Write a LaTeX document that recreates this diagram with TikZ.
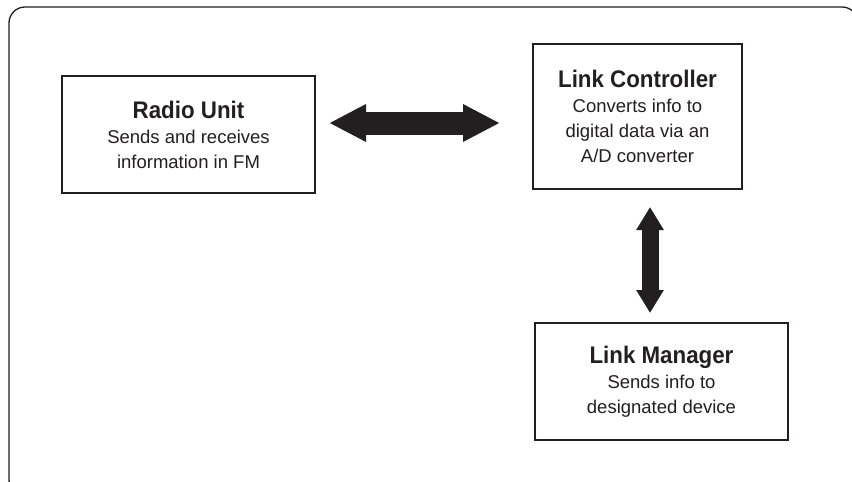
\documentclass[tikz,border=0pt]{standalone}
\usepackage{fontspec}
\setmainfont{Liberation Sans}
\newfontfamily\titlefont[FakeStretch=0.93]{Liberation Sans}
\usetikzlibrary{arrows.meta}

\definecolor{ink}{HTML}{231F20}

\begin{document}
\begin{tikzpicture}[x=1pt, y=-1pt,
    unit/.style={draw=ink, line width=1.4pt, inner sep=0pt, outer sep=0pt, align=center,
        text=ink, font=\fontsize{18.5}{25}\selectfont},
    fatarrow/.style={draw=ink, line width=23pt,
        {Triangle[length=37pt,width=35pt]}-{Triangle[length=37pt,width=35pt]}},
    slimarrow/.style={draw=ink, line width=17pt,
        {Triangle[length=23pt,width=26pt]}-{Triangle[length=23pt,width=26pt]}}]
    \clip (0, 0) rectangle (852, 482);
    \fill[white] (0, 0) rectangle (852, 482);
    \draw[ink, line width=1.3pt, rounded corners=16pt] (9, 7) rectangle (858, 496);
    \node[unit, minimum width=253pt, minimum height=117pt] (radio) at (188.5, 134.5)
        {{\titlefont\bfseries\fontsize{24}{24}\selectfont Radio Unit}\\Sends and receives\\information in FM};
    \node[unit, minimum width=209pt, minimum height=145pt] (ctrl) at (637.5, 116.5)
        {{\titlefont\bfseries\fontsize{24}{24}\selectfont Link Controller}\\Converts info to\\digital data via an\\A/D converter};
    \node[unit, minimum width=253pt, minimum height=117pt] (mgr) at (661.5, 381.5)
        {{\titlefont\bfseries\fontsize{24}{24}\selectfont Link Manager}\\Sends info to\\designated device};
    \draw[fatarrow] ([shift={(14, -11.5)}]radio.east) -- ([shift={(-33, 6.5)}]ctrl.west);
    \draw[slimarrow] ([shift={(12.5, 18)}]ctrl.south) -- ([shift={(-11.5, -10)}]mgr.north);
\end{tikzpicture}
\end{document}
